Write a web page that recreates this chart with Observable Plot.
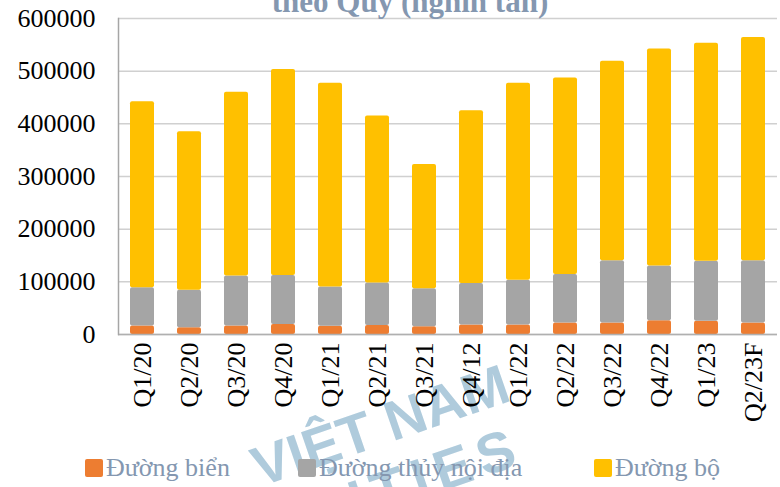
<!DOCTYPE html>
<html>
<head>
<meta charset="utf-8">
<script src="https://cdn.jsdelivr.net/npm/d3@7"></script>
<script src="https://cdn.jsdelivr.net/npm/@observablehq/plot@0.6"></script>
<style>
  html, body { margin: 0; padding: 0; background: #fff; }
  #wrap { position: relative; width: 780px; height: 487px; overflow: hidden; font-family: "Liberation Serif", "Times New Roman", serif; }
  #wm { position: absolute; left: 0; top: 0; z-index: 0; }
  #chart { position: absolute; left: 0; top: 0; z-index: 1; }
  #title { position: absolute; left: 0; width: 820px; top: -14px; text-align: center; font-size: 31px; line-height: 31px; font-weight: bold; color: #8497b0; z-index: 2; white-space: nowrap; }
  .leg { position: absolute; top: 453px; z-index: 2; display: flex; align-items: center; color: #8497b0; font-size: 26px; line-height: 30px; white-space: nowrap; }
  .sw { width: 18px; height: 18px; border-radius: 2px; margin-right: 3px; }
</style>
</head>
<body>
<div id="wrap">
  <svg id="wm" width="780" height="487">
    <text x="513" y="400" text-anchor="end" transform="rotate(-19 513 400)" font-family="Liberation Sans, Arial, sans-serif" font-weight="bold" font-size="56" fill="#afcbdc">VIỆT NAM</text>
    <text x="527" y="462" text-anchor="end" transform="rotate(-19 527 462)" font-family="Liberation Sans, Arial, sans-serif" font-weight="bold" font-size="56" letter-spacing="8" fill="#afcbdc">SECURITIES</text>
  </svg>
  <div id="chart"></div>
  <div id="title">theo Quý (nghìn tấn)</div>
  <div id="legend"></div>
</div>
<script>
const categories = ["Q1/20","Q2/20","Q3/20","Q4/20","Q1/21","Q2/21","Q3/21","Q4/12","Q1/22","Q2/22","Q3/22","Q4/22","Q1/23","Q2/23F"];
const seriesNames = ["Đường biển", "Đường thủy nội địa", "Đường bộ"];
const seriesColors = ["#ed7d31", "#a5a5a5", "#ffc000"];
const seaValues    = [16000, 13000, 16000, 19000, 15500, 17000, 14500, 18000, 18000, 22000, 22000, 26000, 25000, 22000];
const inlandValues = [73000, 71000, 95000, 93000, 74500, 81000, 72500, 79000, 85000, 92000, 118000, 104000, 114000, 118000];
const roadValues   = [353000, 301000, 349000, 391000, 387000, 317000, 236000, 328000, 374000, 373000, 379000, 412000, 414000, 424000];
const yTicks = [0, 100000, 200000, 300000, 400000, 500000, 600000];

const seriesValues = [seaValues, inlandValues, roadValues];
const rows = [];
categories.forEach((q, i) => {
  seriesNames.forEach((s, j) => rows.push({quarter: q, series: s, value: seriesValues[j][i]}));
});

const chart = Plot.plot({
  width: 780,
  height: 445,
  marginTop: 18,
  marginBottom: 111,
  marginLeft: 118,
  marginRight: 3,
  style: {fontFamily: "Liberation Serif, Times New Roman, serif", fontSize: "26px", color: "black", background: "transparent"},
  x: {domain: categories, paddingInner: 0.49, paddingOuter: 0.245, label: null},
  y: {domain: [0, 600000], label: null},
  color: {domain: seriesNames, range: seriesColors},
  marks: [
    Plot.gridY(yTicks, {stroke: "#d0d0d0", strokeOpacity: 1, strokeWidth: 1.5}),
    Plot.barY(rows, Plot.stackY({x: "quarter", y: "value", fill: "series", order: seriesNames, rx: 2})),
    Plot.ruleY([0], {stroke: "#b0b0b0", strokeWidth: 1.5}),
    Plot.frame({anchor: "left", stroke: "#a6a6a6", strokeWidth: 1.5}),
    Plot.axisY(yTicks, {tickSize: 0, tickPadding: 23, tickFormat: d => String(d), fontSize: 26, fill: "black"}),
    Plot.axisX({tickSize: 0, tickRotate: -90, tickPadding: 8, fontSize: 26, fill: "black"})
  ]
});
document.getElementById("chart").appendChild(chart);

const legendLefts = [85, 298, 594];
const legend = document.getElementById("legend");
seriesNames.forEach((s, i) => {
  const item = document.createElement("div");
  item.className = "leg";
  item.style.left = legendLefts[i] + "px";
  const sw = document.createElement("div");
  sw.className = "sw";
  sw.style.background = seriesColors[i];
  const t = document.createElement("span");
  t.textContent = s;
  item.appendChild(sw);
  item.appendChild(t);
  legend.appendChild(item);
});
</script>
</body>
</html>
